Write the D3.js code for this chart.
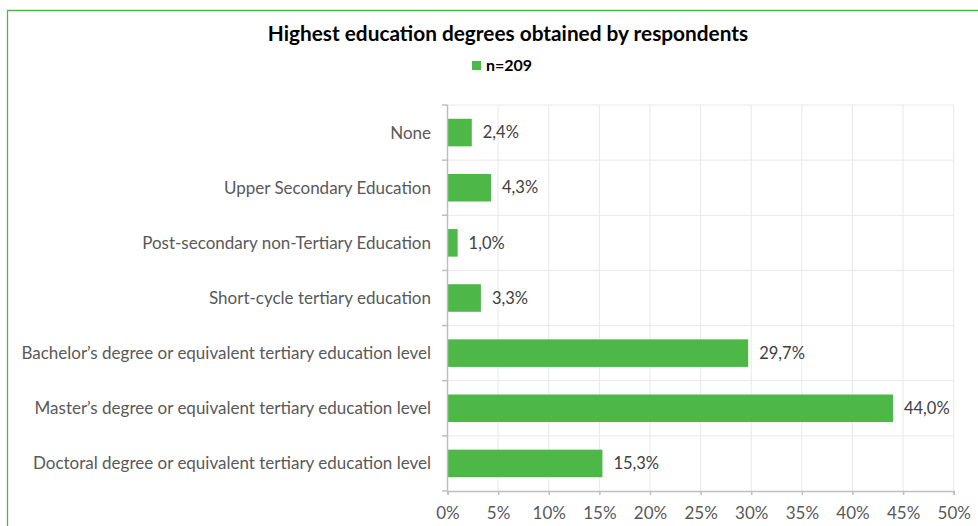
<!DOCTYPE html>
<html>
<head>
<meta charset="utf-8">
<script src="https://cdn.jsdelivr.net/npm/d3@7"></script>
<style>
  html, body { margin: 0; padding: 0; background: #fff; }
  svg { display: block; }
  text { font-family: Lato, "Open Sans", sans-serif; }
</style>
</head>
<body>
<svg id="chart" width="978" height="526"></svg>
<script>
// Survey results: highest education degree of respondents (share in %)
const categories = [
  "None",
  "Upper Secondary Education",
  "Post-secondary non-Tertiary Education",
  "Short-cycle tertiary education",
  "Bachelor\u2019s degree or equivalent tertiary education level",
  "Master\u2019s degree or equivalent tertiary education level",
  "Doctoral degree or equivalent tertiary education level"
];
const values = [2.4, 4.3, 1.0, 3.3, 29.7, 44.0, 15.3];
const xTicks = [0, 5, 10, 15, 20, 25, 30, 35, 40, 45, 50];
const seriesName = "n=209";
const title = "Highest education degrees obtained by respondents";

const W = 978, H = 526;
const green = "#4db848";
const plot = { left: 447.5, right: 953.7, top: 105, bottom: 491 };

const svg = d3.select("#chart");
svg.append("rect").attr("width", W).attr("height", H).attr("fill", "#fff");

// chart area frame (top and left edges visible)
svg.append("path")
  .attr("d", `M7.5,${H} V10.5 H${W}`)
  .attr("fill", "none").attr("stroke", green).attr("stroke-width", 1.3);

const x = d3.scaleLinear().domain([0, 50]).range([plot.left, plot.right]);
const y = d3.scaleBand().domain(categories).range([plot.top, plot.bottom])
  .paddingInner(0.5).paddingOuter(0.25);
const step = y.step();
const fmt = v => d3.format(".1f")(v).replace(".", ",") + "%";

// gridlines
const grid = svg.append("g");
grid.selectAll("line.v").data(xTicks.filter(t => t > 0)).join("line")
  .attr("x1", d => x(d)).attr("x2", d => x(d))
  .attr("y1", plot.top).attr("y2", plot.bottom)
  .attr("stroke", "#e8e8e8").attr("stroke-width", 1);
const boundaries = categories.map((c, i) => plot.top + i * step);
grid.selectAll("line.h").data(boundaries).join("line")
  .attr("x1", plot.left).attr("x2", plot.right)
  .attr("y1", d => d).attr("y2", d => d)
  .attr("stroke", "#e8e8e8").attr("stroke-width", 1);

// bars
svg.append("g").selectAll("rect").data(values).join("rect")
  .attr("x", x(0))
  .attr("y", (d, i) => y(categories[i]))
  .attr("width", d => x(d) - x(0))
  .attr("height", y.bandwidth())
  .attr("fill", green);

// bottom axis
const xAxis = d3.axisBottom(x).tickValues(xTicks).tickSize(4).tickPadding(12)
  .tickFormat(d => d + "%");
const gx = svg.append("g").attr("transform", `translate(0,${plot.bottom})`).call(xAxis);
gx.select(".domain").attr("stroke", "#bfbfbf").attr("stroke-width", 1.5);
gx.selectAll(".tick line").attr("stroke", "#bfbfbf").attr("stroke-width", 1.5);
gx.selectAll(".tick text").attr("fill", "#595959").style("font-size", "17px")
  .style("font-family", "Lato, sans-serif");

// left axis: line, boundary ticks and category labels
const gy = svg.append("g");
gy.append("line").attr("x1", plot.left).attr("x2", plot.left)
  .attr("y1", plot.top).attr("y2", plot.bottom)
  .attr("stroke", "#bfbfbf").attr("stroke-width", 1.5);
gy.selectAll("line.t").data(boundaries.concat([plot.bottom])).join("line")
  .attr("x1", plot.left - 5.5).attr("x2", plot.left)
  .attr("y1", d => d).attr("y2", d => d)
  .attr("stroke", "#bfbfbf").attr("stroke-width", 1.5);
gy.selectAll("text").data(categories).join("text")
  .attr("x", 431)
  .attr("y", d => y(d) + y.bandwidth() / 2)
  .attr("dy", "0.35em")
  .attr("text-anchor", "end")
  .attr("fill", "#595959")
  .style("font-size", "17px")
  .text(d => d);

// value labels
svg.append("g").selectAll("text").data(values).join("text")
  .attr("x", d => x(d) + 11)
  .attr("y", (d, i) => y(categories[i]) + y.bandwidth() / 2)
  .attr("dy", "0.35em")
  .attr("fill", "#404040")
  .style("font-size", "16.5px")
  .text(d => fmt(d));

// title
svg.append("text")
  .attr("x", 508).attr("y", 41)
  .attr("text-anchor", "middle")
  .attr("fill", "#000")
  .style("font-size", "20.8px").style("font-weight", "bold")
  .text(title);

// legend
const lg = svg.append("g");
lg.append("rect").attr("x", 472).attr("y", 61).attr("width", 9).attr("height", 9).attr("fill", green);
lg.append("text").attr("x", 486).attr("y", 65.5).attr("dy", "0.35em")
  .attr("fill", "#000").style("font-size", "16px").style("font-weight", "bold")
  .text(seriesName);
</script>
</body>
</html>
